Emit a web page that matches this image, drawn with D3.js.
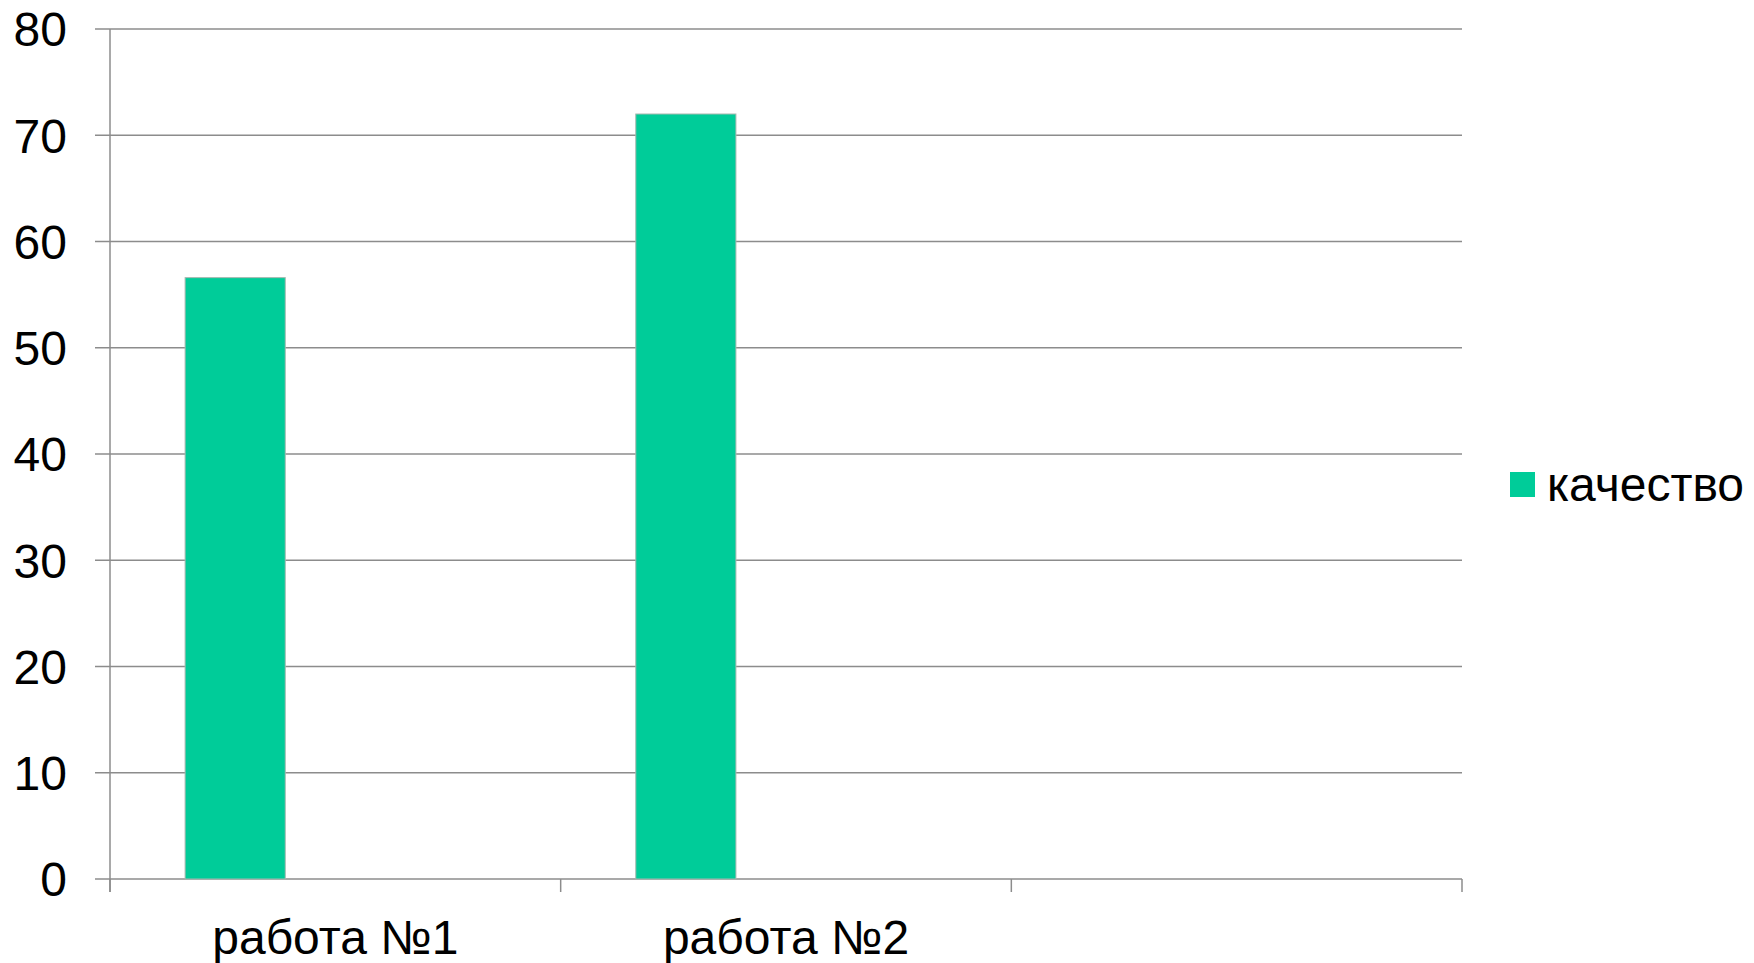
<!DOCTYPE html>
<html><head><meta charset="utf-8">
<script src="https://cdn.jsdelivr.net/npm/d3@7"></script>
<style>html,body{margin:0;padding:0;background:#fff;}svg{display:block;}</style>
</head><body>
<svg id="c" width="1754" height="963"></svg>
<script>
const categories = ["работа №1", "работа №2", ""];
const seriesNames = ["качество"];
const seriesSlots = ["качество", "s2", "s3"];
const values = [56.6, 72, null];
const yTicks = [0, 10, 20, 30, 40, 50, 60, 70, 80];

(function () {
const svg = d3.select("#c");
const mLeft = 110, mRight = 1462, mTop = 29, mBottom = 879;
const font = "'Liberation Sans', Arial, sans-serif";

const x0 = d3.scaleBand().domain(categories).range([mLeft, mRight]).padding(0);
const x1 = d3.scaleBand().domain(seriesSlots).range([0, x0.bandwidth()]).paddingInner(0).paddingOuter(0.75);
const y = d3.scaleLinear().domain([0, 80]).range([mBottom, mTop]);

// gridlines
svg.append("g").selectAll("line").data(yTicks).join("line")
  .attr("x1", mLeft - 15).attr("x2", mRight)
  .attr("y1", d => y(d)).attr("y2", d => y(d))
  .attr("stroke", "#8c8c8c").attr("stroke-width", 1.5);

// y axis line
svg.append("line").attr("x1", mLeft).attr("x2", mLeft).attr("y1", y(80)).attr("y2", y(0) + 13)
  .attr("stroke", "#8c8c8c").attr("stroke-width", 1.5);

// y tick labels
svg.append("g").selectAll("text").data(yTicks).join("text")
  .attr("x", 67).attr("y", d => y(d)).attr("dy", "0.36em")
  .attr("text-anchor", "end").attr("font-family", font).attr("font-size", 48).attr("fill", "#000")
  .text(d => d);

// x category ticks
const boundaries = categories.map(c => x0(c)).concat([mRight]);
svg.append("g").selectAll("line").data(boundaries).join("line")
  .attr("x1", d => d).attr("x2", d => d).attr("y1", y(0)).attr("y2", y(0) + 13)
  .attr("stroke", "#8c8c8c").attr("stroke-width", 1.5);

// bars
svg.append("g").selectAll("rect").data(categories.map((c, i) => ({c, v: values[i]})).filter(d => d.v != null)).join("rect")
  .attr("x", d => x0(d.c) + x1(seriesSlots[0]))
  .attr("width", x1.bandwidth())
  .attr("y", d => y(d.v))
  .attr("height", d => y(0) - y(d.v))
  .attr("fill", "#00cc99").attr("stroke", "#a8b8b0").attr("stroke-width", 1);

// x labels
svg.append("g").selectAll("text").data(categories).join("text")
  .attr("x", d => x0(d) + x0.bandwidth() / 2).attr("y", 954)
  .attr("text-anchor", "middle").attr("font-family", font).attr("font-size", 48).attr("fill", "#000")
  .text(d => d);

// legend
const lg = svg.append("g");
lg.append("rect").attr("x", 1510).attr("y", 472).attr("width", 25).attr("height", 25).attr("fill", "#00cc99");
lg.append("text").attr("x", 1547).attr("y", 501).attr("font-family", font).attr("font-size", 48).attr("fill", "#000")
  .text(seriesNames[0]);
})();
</script>
</body></html>
